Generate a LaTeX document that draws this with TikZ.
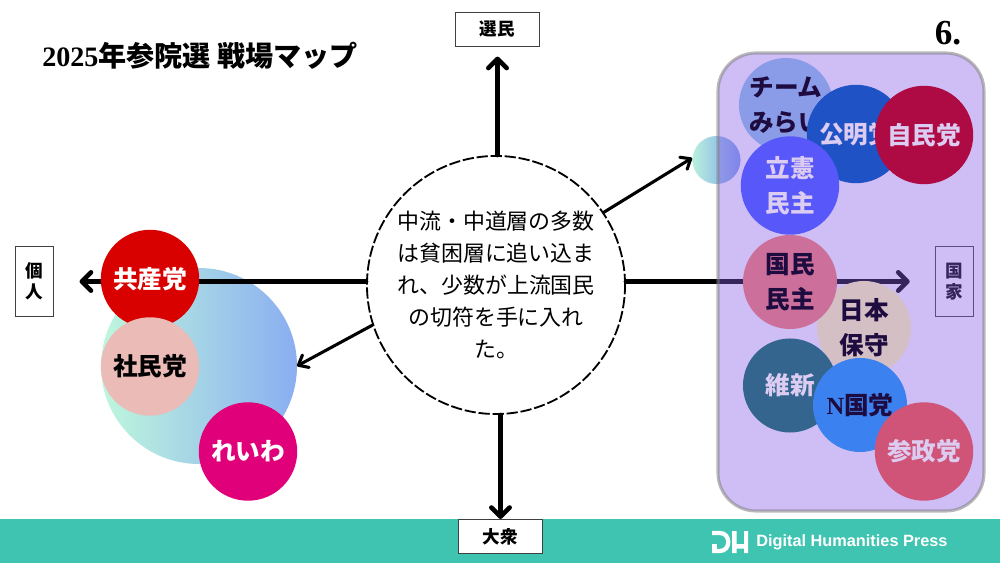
\documentclass[tikz,border=0pt]{standalone}
\usepackage{fontspec}
\setmainfont{Noto Sans CJK JP}
\newfontfamily\latinbf{Liberation Serif}[BoldFont=Liberation Serif Bold]
\newfontfamily\pressfont{Liberation Sans}
\usetikzlibrary{arrows.meta, shapes}
\definecolor{boxfill}{HTML}{895AE6}
\definecolor{darkink}{HTML}{1E0C40}
\definecolor{paleink}{HTML}{DCCCF2}
\tikzstyle{party}=[circle, inner sep=0pt, minimum size=2.35cm, font=\fontsize{17.5}{25}\selectfont\bfseries, align=center]
\tikzstyle{bigparty}=[party, minimum size=2.46cm]
\tikzstyle{axis}=[draw=black!75, fill=white, line width=0.7pt, inner sep=0pt, font=\fontsize{12.5}{15}\selectfont\bfseries, align=center]
\tikzstyle{heavy}=[line width=3.3pt, line cap=round, -{Straight Barb[length=6.5pt, width=13pt, round]}]
\tikzstyle{light}=[line width=2.2pt, line cap=round, -{Straight Barb[length=6pt, width=10pt, round]}]
\begin{document}
\begin{tikzpicture}[x=0.025cm, y=-0.025cm]
		\useasboundingbox (0,0) rectangle (1000,563);
		\fill[white] (0,0) rectangle (1000,563);
		\fill[fill={rgb,255:red,62;green,196;blue,176}] (0,519) rectangle (1000,563);
		% axis labels
		\node[axis, minimum width=2.08cm, minimum height=0.83cm] (elite) at (497.5,29.5) {選民};
		\node[axis, minimum width=2.08cm, minimum height=0.85cm] (mass) at (500.5,536.5) {大衆};
		\node[axis, minimum width=0.95cm, minimum height=1.73cm] (indiv) at (34,281.5) {個\\人};
		\node[axis, minimum width=0.95cm, minimum height=1.73cm] (state) at (954,281.5) {国\\家};
		% left group
		\shade[left color={rgb,255:red,190;green,247;blue,220}, right color={rgb,255:red,138;green,174;blue,241}] (199,366) circle (98);
		\coordinate (L) at (297,366);
		% small bubble
		\shade[left color={rgb,255:red,185;green,240;blue,220}, right color={rgb,255:red,120;green,160;blue,240}] (716.5,160) circle (24);
		\coordinate (M) at (692,158);
		% centre
		\node[circle, draw, dashed, dash pattern=on 8pt off 2pt, line width=1.3pt, fill=white, minimum size=6.45cm, inner sep=0pt, align=center, font=\fontsize{15.6}{22.8}\selectfont] (C) at (496,285) {中流・中道層の多数\\は貧困層に追い込ま\\れ、少数が上流国民\\の切符を手に入れ\\た。};
		% arrows
		\draw[heavy] (elite |- C.north) -- ([yshift=-0.25cm]elite.south);
		\draw[heavy] (mass |- C.south) -- (mass.north);
		\draw[heavy] (C.west |- indiv) -- ([xshift=0.65cm]indiv.east);
		\draw[heavy] (C.east |- state) -- ([xshift=-0.62cm]state.west);
		\draw[light] (C.198) -- (L);
		\draw[light] (C.34) -- (M);
		% right group
		\draw[line width=2.2pt, draw={rgb,255:red,130;green,130;blue,130}, draw opacity=0.55, fill=boxfill, fill opacity=0.4, rounded corners=0.95cm] (718,53) rectangle (984,511);
		\node[party, fill={rgb,255:red,138;green,155;blue,232}, text=darkink] (team) at (786,105) {チーム\\みらい};
		\node[bigparty, fill={rgb,255:red,31;green,82;blue,196}, text=paleink] (komei) at (856,134) {公明党};
		\node[bigparty, fill={rgb,255:red,174;green,10;blue,68}, text=paleink] (jimin) at (924,135) {自民党};
		\node[bigparty, fill={rgb,255:red,88;green,88;blue,250}, text=paleink] (rikken) at (790,185.5) {立憲\\民主};
		\node[party, fill={rgb,255:red,211;green,191;blue,196}, text=darkink] (nihon) at (864,328) {日本\\保守};
		\node[party, fill={rgb,255:red,204;green,111;blue,154}, text=darkink] (kokumin) at (790,282) {国民\\民主};
		\node[party, fill={rgb,255:red,51;green,101;blue,143}, text=paleink] (ishin) at (790,385.5) {維新};
		\node[party, fill={rgb,255:red,59;green,130;blue,240}, text=darkink] (nhk) at (860,405) {{\latinbf\bfseries N}国党};
		\node[bigparty, fill={rgb,255:red,207;green,84;blue,120}, text=paleink] (sansei) at (924,451.5) {参政党};
		% left parties
		\node[bigparty, fill={rgb,255:red,217;green,0;blue,0}, text=white] (kyosan) at (150,279) {共産党};
		\node[bigparty, fill={rgb,255:red,235;green,187;blue,184}, text=black] (shamin) at (150,366.5) {社民党};
		\node[bigparty, fill={rgb,255:red,224;green,0;blue,122}, text=white] (reiwa) at (248,451.5) {れいわ};
		% title
		\node[anchor=west, inner sep=0pt, font=\fontsize{20}{22}\selectfont\bfseries] (title) at (42,56) {{\latinbf\bfseries 2025}年参院選 戦場マップ};
		\node[inner sep=0pt, font=\fontsize{25}{30}\latinbf\bfseries] (page) at (948,33) {6.};
		% press mark
		\draw[white, line width=3pt] (712,533) -- (720,533) .. controls (731,533) and (731,551) .. (720,551) -- (712,551);
		\fill[white] (712,544) rectangle (717,553);
		\fill[white] (732,531) rectangle (736.5,553) (744,531) rectangle (748,553) (732,544) rectangle (748,548.5);
		\node[anchor=west, inner sep=0pt, text=white, font=\fontsize{11.6}{14}\pressfont\bfseries] (press) at (756,542) {Digital Humanities Press};
	\end{tikzpicture}
\end{document}
